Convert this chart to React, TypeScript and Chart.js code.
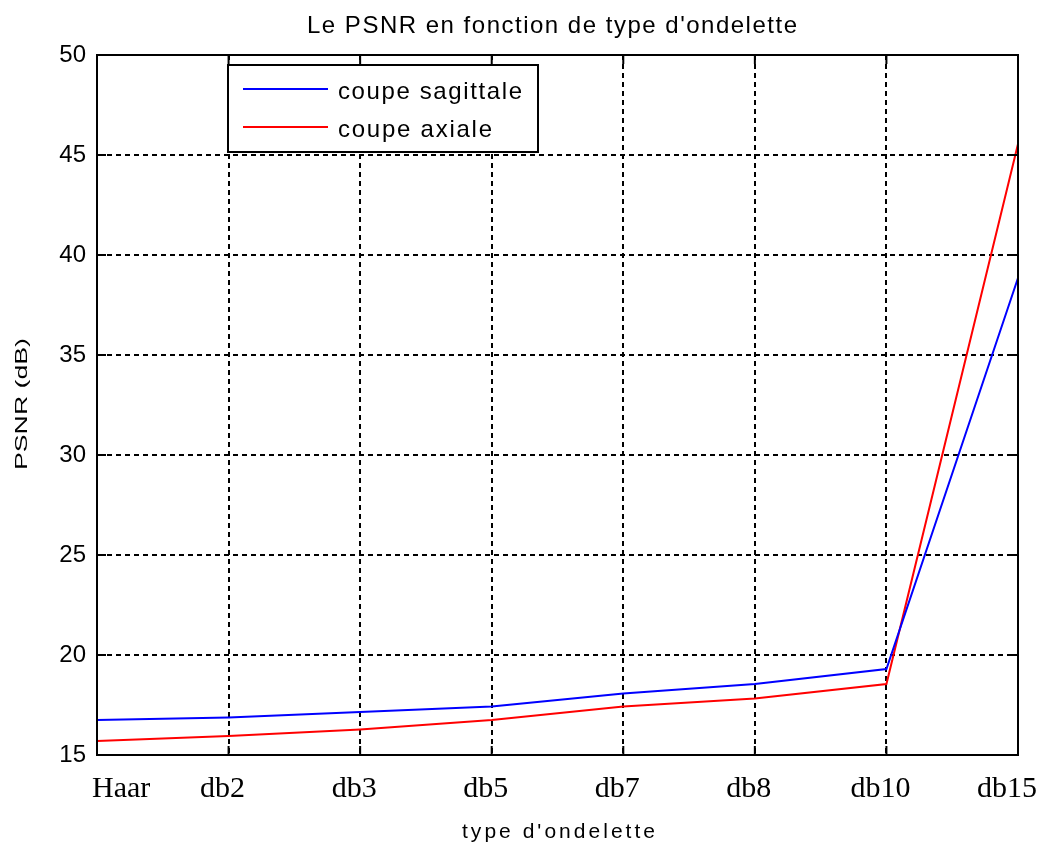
import React, { useEffect, useRef } from 'react';
import { Chart, registerables } from 'chart.js';

Chart.register(...registerables);

// ---- data ----
const categories = ['Haar', 'db2', 'db3', 'db5', 'db7', 'db8', 'db10', 'db15'];
const sagittale = [16.75, 16.88, 17.15, 17.42, 18.08, 18.55, 19.3, 38.85];
const axiale = [15.7, 15.95, 16.28, 16.75, 17.42, 17.82, 18.55, 45.55];
const yTickValues = [15, 20, 25, 30, 35, 40, 45, 50];
const seriesLabels = ['coupe sagittale', 'coupe axiale'];
const seriesColors = ['#0000ff', '#ff0000'];
const chartTitle = "Le PSNR en fonction de type d'ondelette";
const xTitle = "type d'ondelette";
const yTitle = 'PSNR (dB)';

const W = 1041;
const H = 845;
const SANS = '"Liberation Sans", Arial, sans-serif';
const SERIF = '"Liberation Serif", "Times New Roman", serif';

function drawSpaced(
  ctx: CanvasRenderingContext2D,
  text: string,
  x: number,
  y: number,
  font: string,
  width: number
) {
  ctx.font = font;
  (ctx as any).letterSpacing = '0px';
  const w0 = ctx.measureText(text).width;
  const ls = text.length > 1 ? (width - w0) / (text.length - 1) : 0;
  (ctx as any).letterSpacing = ls + 'px';
  ctx.textAlign = 'left';
  ctx.textBaseline = 'alphabetic';
  ctx.fillText(text, x, y);
  (ctx as any).letterSpacing = '0px';
}

function drawStretched(
  ctx: CanvasRenderingContext2D,
  text: string,
  font: string,
  width: number
) {
  ctx.font = font;
  (ctx as any).letterSpacing = '0px';
  const w0 = ctx.measureText(text).width;
  ctx.save();
  ctx.scale(width / w0, 1);
  ctx.textAlign = 'left';
  ctx.textBaseline = 'alphabetic';
  ctx.fillText(text, 0, 0);
  ctx.restore();
}

const decorPlugin = {
  id: 'matlabDecor',
  afterDraw(chart: any) {
    const ctx: CanvasRenderingContext2D = chart.ctx;
    const { left, right, top, bottom } = chart.chartArea;
    const xs = chart.scales.x;
    const ys = chart.scales.y;
    ctx.save();
    ctx.strokeStyle = '#000';
    ctx.fillStyle = '#000';

    // inner tick marks
    ctx.lineWidth = 2;
    ctx.setLineDash([]);
    const tl = 9;
    categories.forEach((_, i) => {
      const px = xs.getPixelForTick(i);
      ctx.beginPath();
      ctx.moveTo(px, bottom);
      ctx.lineTo(px, bottom - tl);
      ctx.moveTo(px, top);
      ctx.lineTo(px, top + tl);
      ctx.stroke();
    });
    yTickValues.forEach((v) => {
      const py = ys.getPixelForValue(v);
      ctx.beginPath();
      ctx.moveTo(left, py);
      ctx.lineTo(left + tl, py);
      ctx.moveTo(right, py);
      ctx.lineTo(right - tl, py);
      ctx.stroke();
    });

    // axes box
    ctx.lineWidth = 2;
    ctx.strokeRect(left, top, right - left, bottom - top);

    // legend
    const lx = left + 131;
    const ly = top + 10;
    const lw = 310;
    const lh = 87;
    ctx.fillStyle = '#fff';
    ctx.fillRect(lx, ly, lw, lh);
    ctx.strokeStyle = '#000';
    ctx.lineWidth = 2;
    ctx.strokeRect(lx, ly, lw, lh);
    const legendWidths = [184, 154];
    seriesLabels.forEach((lab, i) => {
      const rowY = ly + 24 + i * 38;
      ctx.strokeStyle = seriesColors[i];
      ctx.lineWidth = 2;
      ctx.beginPath();
      ctx.moveTo(lx + 15, rowY);
      ctx.lineTo(lx + 100, rowY);
      ctx.stroke();
      ctx.fillStyle = '#000';
      drawSpaced(ctx, lab, lx + 110, rowY + 10, `24px ${SANS}`, legendWidths[i]);
    });

    // x tick labels (serif, MATLAB style)
    ctx.fillStyle = '#000';
    ctx.font = `30px ${SERIF}`;
    ctx.textAlign = 'left';
    ctx.textBaseline = 'alphabetic';
    categories.forEach((lab, i) => {
      const px = xs.getPixelForTick(i);
      const w = ctx.measureText(lab).width;
      let x0 = px - 6 - w / 2;
      if (x0 < left - 5) x0 = left - 5;
      if (x0 + w > W - 4) x0 = W - 4 - w;
      ctx.fillText(lab, x0, bottom + 42);
    });

    // title
    drawSpaced(ctx, chartTitle, 307, 33, `24px ${SANS}`, 490);
    // x title
    drawSpaced(ctx, xTitle, 462, 838, `21px ${SANS}`, 193);
    // y title (rotated, stretched along its direction)
    ctx.save();
    ctx.translate(27, 470);
    ctx.rotate(-Math.PI / 2);
    drawStretched(ctx, yTitle, `17px ${SANS}`, 132);
    ctx.restore();

    ctx.restore();
  },
};

export default function App() {
  const ref = useRef<HTMLCanvasElement | null>(null);

  useEffect(() => {
    if (!ref.current) return;
    const chart = new Chart(ref.current, {
      type: 'line',
      data: {
        labels: categories,
        datasets: [
          {
            label: seriesLabels[0],
            data: sagittale,
            borderColor: seriesColors[0],
            backgroundColor: seriesColors[0],
            borderWidth: 2,
            pointRadius: 0,
            tension: 0,
            fill: false,
          },
          {
            label: seriesLabels[1],
            data: axiale,
            borderColor: seriesColors[1],
            backgroundColor: seriesColors[1],
            borderWidth: 2,
            pointRadius: 0,
            tension: 0,
            fill: false,
          },
        ],
      },
      options: {
        responsive: false,
        animation: false,
        devicePixelRatio: 1,
        layout: { padding: { left: 0, right: 23, top: 55, bottom: 0 } },
        plugins: {
          legend: { display: false },
          title: { display: false },
          tooltip: { enabled: false },
        },
        scales: {
          x: {
            type: 'category',
            offset: false,
            ticks: { display: false },
            grid: { color: '#000', lineWidth: 2, drawTicks: false },
            border: { display: true, color: '#000', width: 2, dash: [5, 4] },
            afterFit: (s: any) => {
              s.height = 90;
              s.paddingLeft = 0;
              s.paddingRight = 0;
            },
          },
          y: {
            type: 'linear',
            min: 15,
            max: 50,
            ticks: {
              stepSize: 5,
              color: '#000',
              padding: 11,
              font: { family: SANS, size: 24 },
            },
            grid: { color: '#000', lineWidth: 2, drawTicks: false },
            border: { display: true, color: '#000', width: 2, dash: [5, 4] },
            afterFit: (s: any) => {
              s.width = 97;
              s.paddingTop = 0;
              s.paddingBottom = 0;
            },
          },
        },
      },
      plugins: [decorPlugin],
    });
    return () => chart.destroy();
  }, []);

  return (
    <div style={{ position: 'fixed', left: 0, top: 0, width: W, height: H, background: '#fff' }}>
      <canvas ref={ref} width={W} height={H} style={{ display: 'block', width: W, height: H }} />
    </div>
  );
}
